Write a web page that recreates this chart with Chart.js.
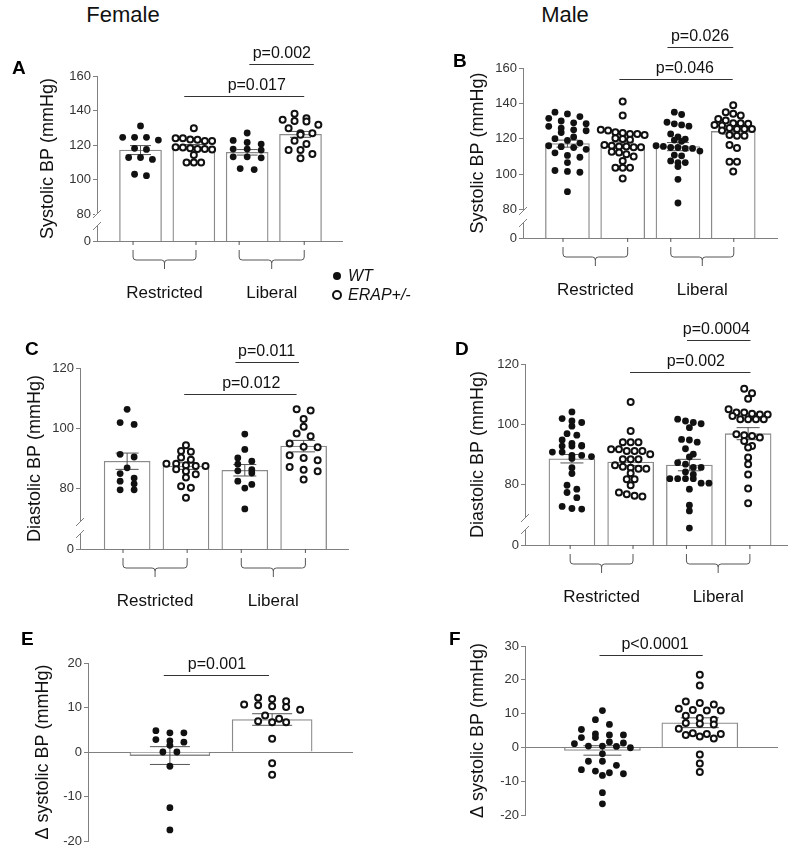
<!DOCTYPE html>
<html>
<head>
<meta charset="utf-8">
<script src="https://cdn.jsdelivr.net/npm/chart.js@4.4.1/dist/chart.umd.min.js"></script>
<style>
body { margin: 0; background: #fff; font-family: Arial, "Liberation Sans", sans-serif; }
#fig { position: relative; width: 799px; height: 866px; overflow: hidden; }
.panel { position: absolute; }
.letter { position: absolute; font-weight: 900; font-size: 19px; line-height: 1; color: #000; }
.head { position: absolute; font-size: 22px; line-height: 1; color: #111; transform: translateX(-50%); }
.leg { position: absolute; font-size: 16px; font-style: italic; line-height: 1; color: #111; }
.dot { position: absolute; border-radius: 50%; box-sizing: border-box; }
</style>
</head>
<body>
<div id="fig">
  <div class="head" style="left:123px;top:4px">Female</div>
  <div class="head" style="left:565px;top:4px">Male</div>

  <div class="panel" style="left:0;top:30px;width:400px;height:280px"><canvas id="chartA"></canvas></div>
  <div class="panel" style="left:400px;top:25px;width:399px;height:285px"><canvas id="chartB"></canvas></div>
  <div class="panel" style="left:0;top:310px;width:400px;height:300px"><canvas id="chartC"></canvas></div>
  <div class="panel" style="left:400px;top:310px;width:399px;height:300px"><canvas id="chartD"></canvas></div>
  <div class="panel" style="left:0;top:610px;width:400px;height:256px"><canvas id="chartE"></canvas></div>
  <div class="panel" style="left:400px;top:610px;width:399px;height:256px"><canvas id="chartF"></canvas></div>

  <div class="letter" style="left:12px;top:58px">A</div>
  <div class="letter" style="left:453px;top:51px">B</div>
  <div class="letter" style="left:25px;top:339px">C</div>
  <div class="letter" style="left:455px;top:339px">D</div>
  <div class="letter" style="left:21px;top:629px">E</div>
  <div class="letter" style="left:449px;top:629px">F</div>

  <div class="dot" style="left:333px;top:272px;width:8px;height:8px;background:#111"></div>
  <div class="leg" style="left:348px;top:268px">WT</div>
  <div class="dot" style="left:332px;top:290px;width:10px;height:10px;border:2.3px solid #111"></div>
  <div class="leg" style="left:348px;top:287px">ERAP+/-</div>
</div>

<script>
// Systolic BP, female (mmHg)
const fSysWTRes = [131.1, 124.5, 124.5, 124.5, 122.9, 118.1, 117.5, 112.8, 112.8, 111.7, 102.3, 103.1];
const fSysERAPRes = [129.7, 123.1, 123.3, 123.9, 122.3, 122.3, 123.9, 118.8, 117.7, 118.6, 117.7, 117.5, 118.1, 114.2, 109.9, 109.9, 109.9];
const fSysWTLib = [127.0, 122.7, 121.5, 120.6, 117.7, 117.7, 117.1, 113.2, 112.6, 113.2, 105.8, 106.4];
const fSysERAPLib = [138.1, 134.6, 134.0, 135.6, 133.6, 131.7, 129.7, 126.8, 126.8, 126.0, 122.5, 120.6, 117.1, 117.1, 114.8, 112.3];
const fSysMeans = [117.1, 119.0, 115.8, 126.2];
const fSysSem = [2.6, 1.3, 1.6, 1.7];

// Systolic BP, male
const mSysWTRes = [135, 134, 132.5, 131.5, 130, 129, 128.5, 127, 126, 125, 124.5, 123.5, 121, 120, 119, 117.5, 116, 115.5, 115, 114, 112, 110.5, 109.5, 106.5, 102, 101.5, 101, 90];
const mSysERAPRes = [141.1, 133.1, 125.1, 124.6, 123.6, 123.2, 122.7, 122.7, 122.1, 120.2, 119.8, 119.4, 116.4, 116, 115.6, 115.6, 115.1, 115.1, 112.6, 112.2, 111.2, 109.9, 107.4, 103.6, 103.6, 103.6, 97.5];
const mSysWTLib = [135, 133.7, 129.3, 128.4, 127.8, 127.1, 122.7, 121, 119.8, 119.2, 118.5, 116, 115.6, 115, 115, 114.5, 114.5, 113, 110.7, 110.3, 107.4, 106.5, 106.5, 104.2, 97, 83.6];
const mSysERAPLib = [138.9, 135, 134.1, 133.1, 131.2, 130.3, 128.8, 128.8, 128.4, 127.8, 127.4, 126.1, 125.5, 125.5, 125.5, 124.6, 122.1, 121.7, 121.7, 116.4, 114.7, 106.9, 106.9, 101.5];
const mSysMeans = [117.2, 116.3, 115.5, 124.1];
const mSysSem = [2.0, 1.8, 2.3, 1.5];

// Diastolic BP, female
const fDiaWTRes = [106.3, 101.9, 101.3, 91.4, 90.5, 86.9, 85, 83.5, 82.5, 81.6, 79.6, 79.6];
const fDiaERAPRes = [94.4, 92.5, 92.2, 90.3, 89.6, 88.3, 88.3, 87.8, 87.5, 87.5, 86.4, 85.8, 84.8, 83.7, 80.8, 80.3, 77];
const fDiaWTLib = [98.1, 93, 90.2, 89.1, 88.1, 86.3, 85.9, 85.2, 82.5, 81.4, 80.2, 73.3];
const fDiaERAPLib = [106.3, 105.9, 103.1, 100.5, 98.3, 97.4, 95, 93.9, 93.7, 91.1, 90.2, 89.4, 87.2, 86.3, 85.8, 83];
const fDiaMeans = [89.1, 87.5, 86.1, 94.1];
const fDiaSem = [2.7, 1.1, 1.9, 1.9];

// Diastolic BP, male
const mDiaWTRes = [104.1, 101.9, 101.1, 100.6, 99.4, 96.9, 96.4, 94.8, 93.7, 93, 92.8, 92.8, 92.8, 90.8, 90.8, 89.7, 89.7, 89.3, 88.7, 85.6, 83.7, 79.8, 78.5, 77.4, 75.7, 72.8, 72.1, 71.9];
const mDiaERAPRes = [107.4, 97.8, 94.1, 94.1, 94.1, 91.7, 91.7, 91.2, 91.2, 91.2, 90.1, 88.4, 88.4, 88.4, 86.4, 85.9, 85.6, 85.3, 85.3, 83.8, 81.8, 81.8, 79.8, 77.4, 76.8, 76.3, 76.1];
const mDiaWTLib = [101.7, 101.1, 100.6, 100.2, 98.9, 95, 94.8, 94.1, 91.9, 90.1, 89.2, 87.3, 86.8, 85.7, 85.7, 84.2, 83.4, 82, 82, 82, 82, 80.5, 80.5, 78.5, 73.2, 71.3, 65.6];
const mDiaERAPLib = [111.8, 110.3, 108.5, 105, 103.9, 103.9, 103.5, 103.3, 103.3, 102.8, 101.7, 101.7, 101.7, 101.7, 96.7, 96.4, 96.1, 95.6, 94.5, 92.8, 92.3, 89, 86.8, 83.4, 78.7, 73.8];
const mDiaMeans = [88.6, 87.5, 86.5, 96.9];
const mDiaSem = [1.4, 1.2, 1.9, 2.0];

// Change in systolic BP (liberal - restricted)
const fDeltaWT = [4.8, 4.3, 4.3, 2.8, 2.5, 2.2, 1.5, 0, 0, -3.2, -12.5, -17.5];
const fDeltaERAP = [12.2, 11.9, 11.4, 10.7, 10.5, 10.3, 10.1, 9.5, 8.2, 7.5, 6.9, 6.7, 6.7, 3.0, -2.5, -5.1];
const fDeltaMeans = [-0.8, 7.3];
const fDeltaSem = [2.0, 1.3];
const mDeltaWT = [10.9, 8.2, 6.8, 5.3, 4.0, 3.7, 3.7, 2.9, 2.9, 1.6, 1.3, 1.1, 0.4, 0.4, 0.3, -0.1, -1.9, -4.1, -4.1, -5.3, -6.6, -7.0, -7.5, -7.8, -8.3, -13.4, -16.7];
const mDeltaERAP = [21.5, 18.3, 13.6, 13.1, 12.7, 11.4, 11.1, 10.9, 10.9, 9.4, 8.7, 8.2, 7.2, 7.0, 6.8, 5.5, 4.2, 4.0, 4.0, 3.7, 3.2, 2.6, -2.1, -4.8, -7.3];
const mDeltaMeans = [-0.9, 7.3];
const mDeltaSem = [1.4, 1.45];

// tick labels
const sysTicks = ['0', '80', '100', '120', '140', '160'];
const diaTicks = ['0', '80', '100', '120'];
const fDeltaTicks = ['-20', '-10', '0', '10', '20'];
const mDeltaTicks = ['-20', '-10', '0', '10', '20', '30'];
const dietGroups = ['Restricted', 'Liberal'];

Chart.defaults.font.family = 'Arial, "Liberation Sans", sans-serif';
const AXIS = '#808080';
const BIN = 5.5;  // dots closer than this (px) share a row

// extra drawing: error bars, baseline, axis break, brackets, p-values
function decorFor(p) {
  return {
    id: 'decor',
    afterDatasetDraw(chart, args) {
      if (args.meta.type !== 'bar') return;
      const ctx = chart.ctx, ys = chart.scales.y;
      const ds = chart.data.datasets[args.index];
      ctx.save();
      ctx.strokeStyle = '#555';
      ctx.lineWidth = 1;
      args.meta.data.forEach((bar, i) => {
        const m = ds.data[i].y, s = ds.sem[i];
        const hw = bar.width * 0.25;
        const yt = ys.getPixelForValue(m + s), yb = ys.getPixelForValue(m - s);
        ctx.beginPath();
        ctx.moveTo(bar.x, yt); ctx.lineTo(bar.x, yb);
        ctx.moveTo(bar.x - hw, yt); ctx.lineTo(bar.x + hw, yt);
        ctx.moveTo(bar.x - hw, yb); ctx.lineTo(bar.x + hw, yb);
        ctx.stroke();
      });
      ctx.restore();
    },
    beforeDatasetsDraw(chart) {
      const {ctx, chartArea} = chart, ys = chart.scales.y;
      const y0 = p.broken ? chartArea.bottom : ys.getPixelForValue(0);
      ctx.save();
      ctx.strokeStyle = AXIS;
      ctx.lineWidth = 1;
      ctx.beginPath();
      ctx.moveTo(chartArea.left, Math.round(y0) + 0.5);
      ctx.lineTo(chartArea.right, Math.round(y0) + 0.5);
      ctx.stroke();
      if (p.broken) {
        const ax = chartArea.left, b1 = chartArea.bottom - 27, b2 = chartArea.bottom - 15;
        ctx.fillStyle = '#fff';
        ctx.fillRect(ax - 2, b1, 4, b2 - b1);
        ctx.beginPath();
        [b1, b2].forEach(y => { ctx.moveTo(ax - 4, y + 4); ctx.lineTo(ax + 4, y - 4); });
        ctx.stroke();
      }
      ctx.restore();
    },
    afterDraw(chart) {
      const {ctx, chartArea} = chart, xs = chart.scales.x, ys = chart.scales.y;
      ctx.save();
      ctx.strokeStyle = '#555';
      ctx.fillStyle = '#111';
      ctx.lineWidth = 1;
      ctx.textAlign = 'center';
      ctx.textBaseline = 'middle';
      const y0 = chartArea.bottom;
      (p.brackets || []).forEach(([a, b], i) => {
        const xa = xs.getPixelForValue(a), xb = xs.getPixelForValue(b), xm = (xa + xb) / 2;
        ctx.beginPath();
        ctx.moveTo(xa, y0); ctx.lineTo(xa, y0 + 4);
        ctx.moveTo(xb, y0); ctx.lineTo(xb, y0 + 4);
        ctx.moveTo(xa, y0 + 9);
        ctx.arcTo(xa, y0 + 19, xa + 4, y0 + 19, 3);
        ctx.lineTo(xm - 3, y0 + 19);
        ctx.arcTo(xm, y0 + 19, xm, y0 + 28, 3);
        ctx.lineTo(xm, y0 + 28);
        ctx.moveTo(xm, y0 + 22);
        ctx.arcTo(xm, y0 + 19, xm + 3, y0 + 19, 3);
        ctx.lineTo(xb - 4, y0 + 19);
        ctx.arcTo(xb, y0 + 19, xb, y0 + 9, 3);
        ctx.lineTo(xb, y0 + 9);
        ctx.stroke();
        ctx.font = '17px Arial, "Liberation Sans", sans-serif';
        ctx.fillText(dietGroups[i], xm, y0 + 52);
      });
      ctx.strokeStyle = '#333';
      ctx.font = '16px Arial, "Liberation Sans", sans-serif';
      p.sig.forEach(s => {
        const y = Math.round(ys.getPixelForValue(s.at)) + 0.5;
        ctx.beginPath();
        ctx.moveTo(xs.getPixelForValue(s.from), y);
        ctx.lineTo(xs.getPixelForValue(s.to), y);
        ctx.stroke();
        ctx.fillText(s.text, xs.getPixelForValue(s.textAt), y - 11);
      });
      ctx.restore();
    }
  };
}

// scatter-dot layout: dots with close values share a centred row,
// rows are spaced so the widest one fits roughly inside the bar
function spread(chart, barWidth) {
  const xs = chart.scales.x, ys = chart.scales.y;
  chart.data.datasets.forEach(ds => {
    if (ds.type !== 'scatter') return;
    const groups = {};
    ds.data.forEach(pt => (groups[pt.g] = groups[pt.g] || []).push(pt));
    const out = [];
    Object.values(groups).forEach(pts => {
      const cx = xs.getPixelForValue(pts[0].x);
      const rows = [];
      pts.slice().sort((a, b) => b.y - a.y).forEach(pt => {
        const py = ys.getPixelForValue(pt.y);
        const row = rows[rows.length - 1];
        if (row && py - row.top < BIN) row.pts.push(pt);
        else rows.push({top: py, pts: [pt]});
      });
      const widest = Math.max(...rows.map(r => r.pts.length));
      const gap = widest > 1 ? Math.min(14, Math.max(7.3, barWidth * 0.85 / (widest - 1))) : 14;
      rows.forEach(row => {
        const n = row.pts.length;
        row.pts.forEach((pt, j) => {
          const px = cx + (j - (n - 1) / 2) * gap;
          out.push({x: xs.getValueForPixel(px), y: pt.y, g: pt.g});
        });
      });
    });
    ds.data = out;
  });
  chart.update('none');
}

function makePanel(id, p) {
  const wt = [], erap = [];
  p.points.forEach((vals, i) => {
    const target = i % 2 ? erap : wt;
    vals.forEach(v => target.push({x: i + 1, y: v, g: i}));
  });
  const chart = new Chart(document.getElementById(id), {
    type: 'bar',
    data: {
      datasets: [
        {
          type: 'bar',
          data: p.means.map((m, i) => ({x: i + 1, y: m})),
          sem: p.sem,
          backgroundColor: '#fff',
          borderColor: '#8a8a8a',
          borderWidth: 1.3,
          barThickness: p.barWidth,
          order: 3
        },
        {
          type: 'scatter',
          data: wt,
          pointRadius: 3.4,
          backgroundColor: '#111',
          borderColor: '#111',
          borderWidth: 0,
          order: 2
        },
        {
          type: 'scatter',
          data: erap,
          pointRadius: 3.0,
          backgroundColor: '#fff',
          borderColor: '#111',
          borderWidth: 2,
          order: 1
        }
      ]
    },
    options: {
      responsive: true,
      maintainAspectRatio: false,
      animation: false,
      events: [],
      layout: {padding: p.pad},
      plugins: {legend: {display: false}, tooltip: {enabled: false}},
      scales: {
        x: {type: 'linear', min: p.xMin, max: p.xMax, display: false, offset: false},
        y: {
          min: p.yMin,
          max: p.yMax,
          afterBuildTicks: s => {
            s.ticks = p.ticks.map((t, i) => ({value: p.broken && i === 0 ? p.yMin : +t}));
          },
          ticks: {autoSkip: false, padding: 2, color: '#333', font: {size: 13}, callback: (v, i) => p.ticks[i]},
          grid: {drawOnChartArea: false, tickLength: 4, color: AXIS},
          border: {color: AXIS},
          title: {display: true, text: p.title, color: '#111', font: {size: 18}, padding: {top: p.titlePad, bottom: 0}},
          afterFit: s => { s.width = p.axisWidth; }
        }
      }
    },
    plugins: [decorFor(p)]
  });
  spread(chart, p.barWidth);
  return chart;
}

makePanel('chartA', {
  points: [fSysWTRes, fSysERAPRes, fSysWTLib, fSysERAPLib],
  means: fSysMeans, sem: fSysSem, ticks: sysTicks, broken: true,
  title: 'Systolic BP (mmHg)', titlePad: 37, axisWidth: 97,
  pad: {left: 0, top: 46, right: 57, bottom: 69},
  xMin: 0.184, xMax: 4.797, yMin: 64.45, yMax: 160, barWidth: 42,
  brackets: [[0.86, 2.04], [2.85, 4.07]],
  sig: [
    {from: 1.82, to: 4.07, at: 148.4, text: 'p=0.017', textAt: 3.18},
    {from: 3.04, to: 4.25, at: 167.0, text: 'p=0.002', textAt: 3.65}
  ]
});

makePanel('chartB', {
  points: [mSysWTRes, mSysERAPRes, mSysWTLib, mSysERAPLib],
  means: mSysMeans, sem: mSysSem, ticks: sysTicks, broken: true,
  title: 'Systolic BP (mmHg)', titlePad: 67, axisWidth: 123,
  pad: {left: 0, top: 43, right: 21, bottom: 72},
  xMin: 0.196, xMax: 4.81, yMin: 63.8, yMax: 160, barWidth: 44,
  brackets: [[0.92, 2.09], [2.87, 4.01]],
  sig: [
    {from: 1.94, to: 3.99, at: 154.0, text: 'p=0.046', textAt: 3.125},
    {from: 2.81, to: 4.0, at: 171.7, text: 'p=0.026', textAt: 3.40}
  ]
});

makePanel('chartC', {
  points: [fDiaWTRes, fDiaERAPRes, fDiaWTLib, fDiaERAPLib],
  means: fDiaMeans, sem: fDiaSem, ticks: diaTicks, broken: true,
  title: 'Diastolic BP (mmHg)', titlePad: 24, axisWidth: 80,
  pad: {left: 0, top: 58, right: 51, bottom: 61},
  xMin: 0.199, xMax: 4.771, yMin: 60, yMax: 120, barWidth: 46,
  brackets: [[0.93, 2.02], [2.94, 4.03]],
  sig: [
    {from: 1.97, to: 3.88, at: 111.3, text: 'p=0.012', textAt: 3.11},
    {from: 2.84, to: 3.92, at: 121.9, text: 'p=0.011', textAt: 3.37}
  ]
});

makePanel('chartD', {
  points: [mDiaWTRes, mDiaERAPRes, mDiaWTLib, mDiaERAPLib],
  means: mDiaMeans, sem: mDiaSem, ticks: diaTicks, broken: true,
  title: 'Diastolic BP (mmHg)', titlePad: 67, axisWidth: 125,
  pad: {left: 0, top: 54, right: 11, bottom: 65},
  xMin: 0.201, xMax: 4.679, yMin: 60, yMax: 120, barWidth: 46,
  brackets: [[0.97, 2.04], [2.95, 4.03]],
  sig: [
    {from: 1.99, to: 4.04, at: 117.5, text: 'p=0.002', textAt: 3.11},
    {from: 2.96, to: 4.04, at: 127.9, text: 'p=0.0004', textAt: 3.46}
  ]
});

makePanel('chartE', {
  points: [fDeltaWT, fDeltaERAP],
  means: fDeltaMeans, sem: fDeltaSem, ticks: fDeltaTicks, broken: false,
  title: 'Δ systolic BP (mmHg)', titlePad: 32, axisWidth: 88,
  pad: {left: 0, top: 53, right: 47, bottom: 25},
  xMin: 0.199, xMax: 2.791, yMin: -20, yMax: 20, barWidth: 80,
  sig: [{from: 0.94, to: 1.97, at: 17.4, text: 'p=0.001', textAt: 1.46}]
});

makePanel('chartF', {
  points: [mDeltaWT, mDeltaERAP],
  means: mDeltaMeans, sem: mDeltaSem, ticks: mDeltaTicks, broken: false,
  title: 'Δ systolic BP (mmHg)', titlePad: 67, axisWidth: 125,
  pad: {left: 0, top: 36, right: 21, bottom: 51},
  xMin: 0.205, xMax: 2.803, yMin: -20, yMax: 30, barWidth: 76,
  sig: [{from: 0.97, to: 2.03, at: 27.4, text: 'p<0.0001', textAt: 1.54}]
});
</script>
</body>
</html>
